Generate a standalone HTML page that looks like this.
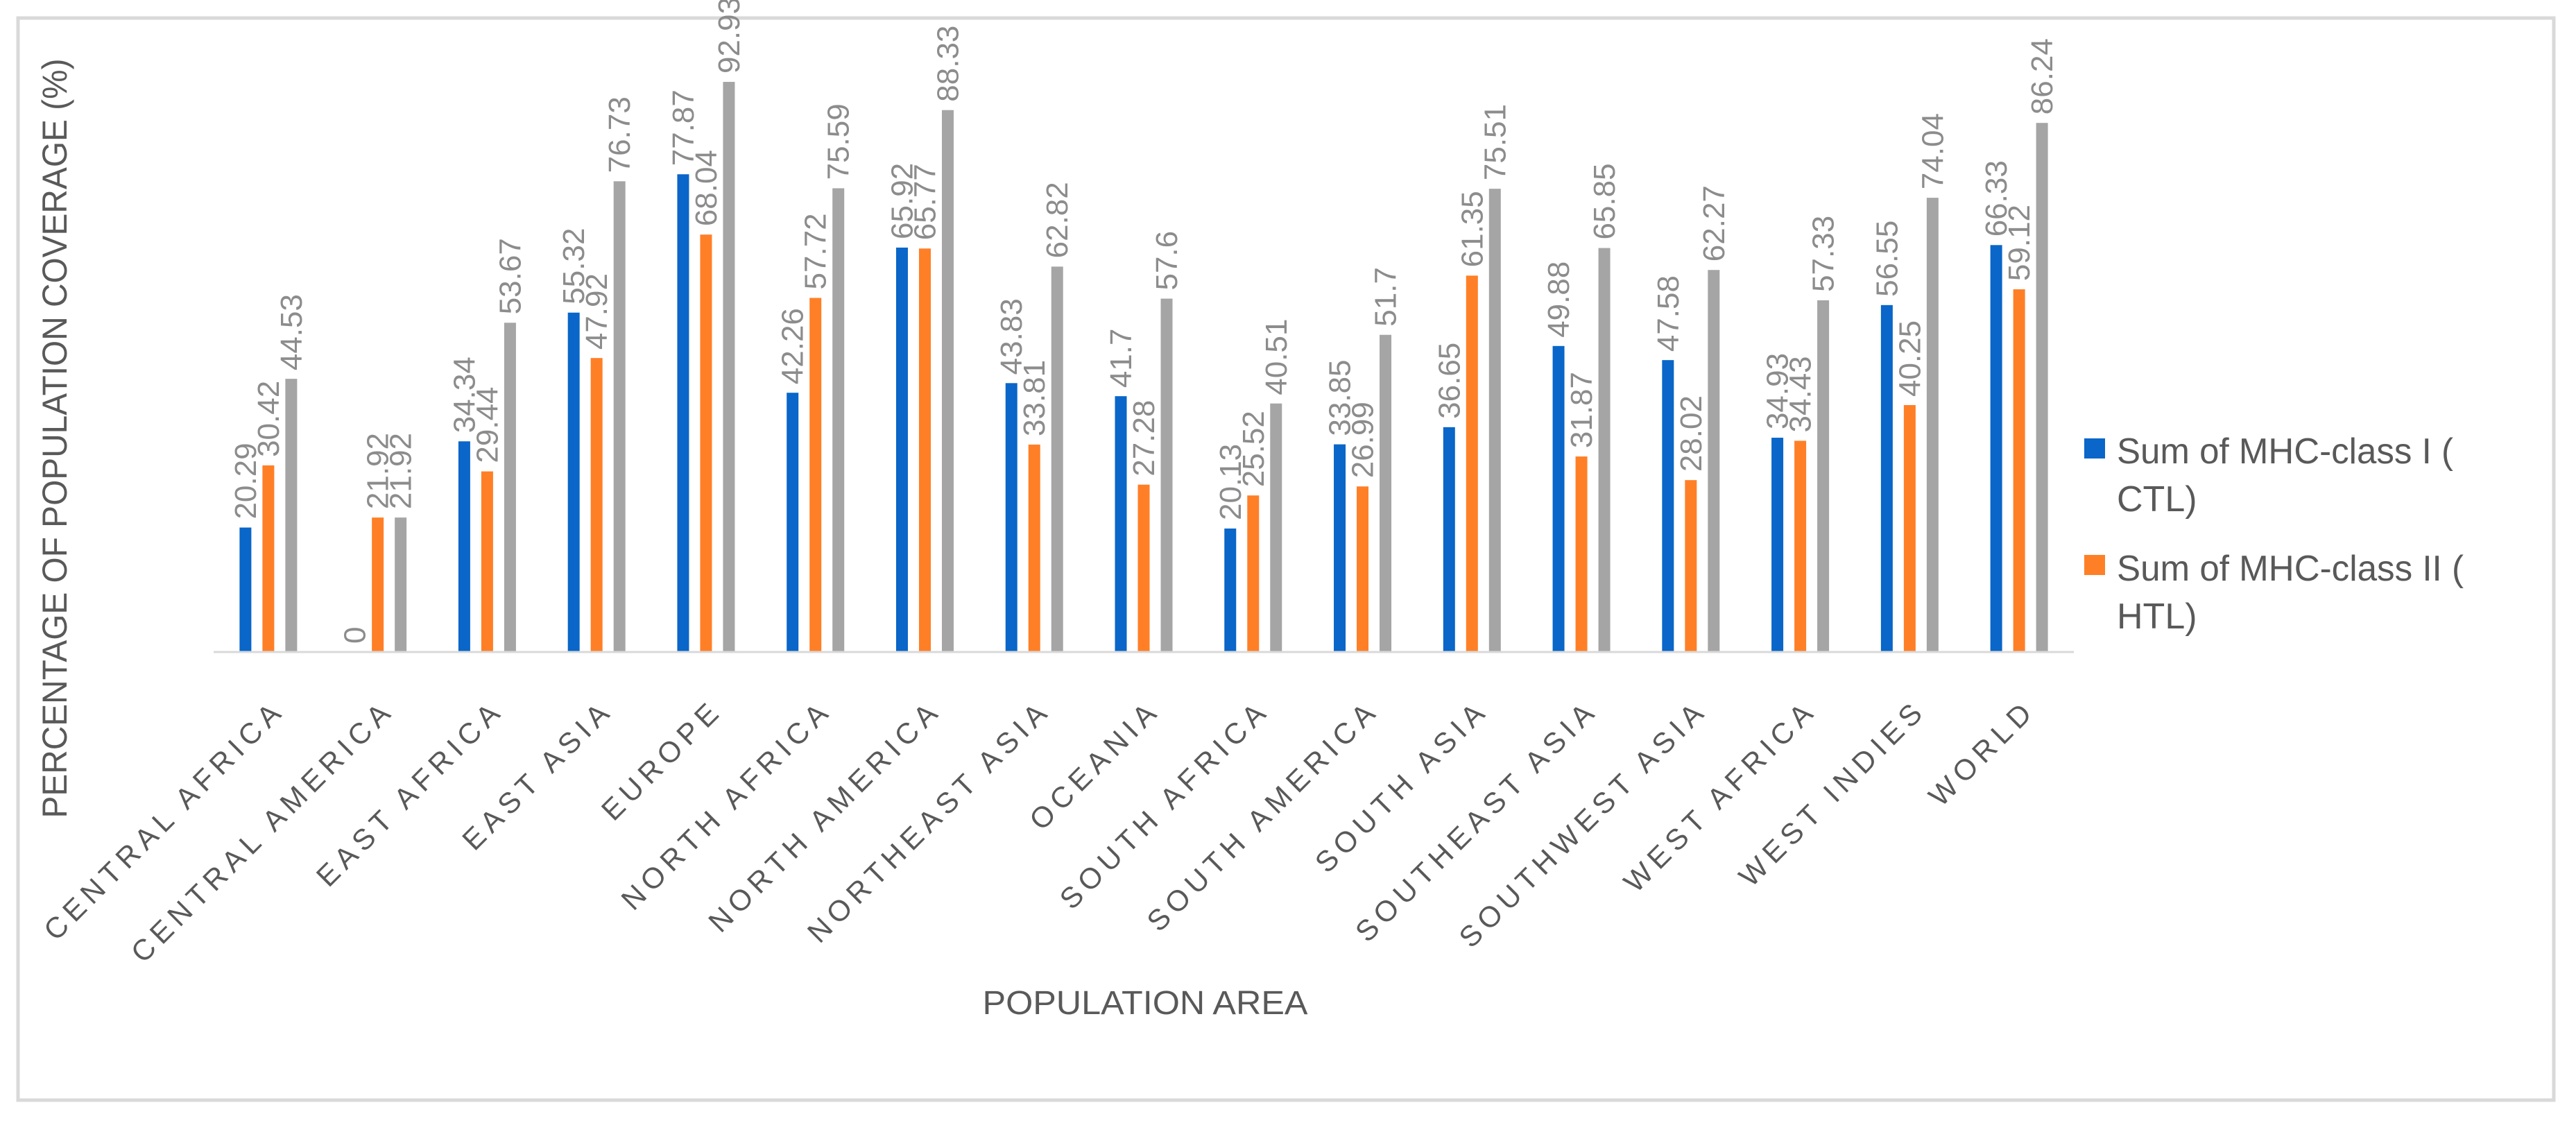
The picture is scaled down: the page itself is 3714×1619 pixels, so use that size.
<!DOCTYPE html>
<html><head><meta charset="utf-8"><style>
html,body{margin:0;padding:0;background:#fff;}
svg{display:block;font-family:"Liberation Sans",sans-serif;}
</style></head><body>
<svg id="chart" width="3714" height="1619" viewBox="0 0 3714 1619" xmlns="http://www.w3.org/2000/svg">
<rect x="26" y="26" width="3656" height="1560" fill="#fff" stroke="#d9d9d9" stroke-width="5"/>
<g id="bars"></g>
<g id="labels"></g>
<g id="cats"></g>
<line x1="308" y1="940" x2="2990" y2="940" stroke="#d9d9d9" stroke-width="3"/>
<text transform="translate(96,632) rotate(-90)" text-anchor="middle" font-size="50" fill="#595959" textLength="1095" lengthAdjust="spacingAndGlyphs">PERCENTAGE OF POPULATION COVERAGE (%)</text>
<text x="1651" y="1462" text-anchor="middle" font-size="48" fill="#595959" textLength="469" lengthAdjust="spacingAndGlyphs">POPULATION AREA</text>
<g>
<rect x="3005" y="632" width="30" height="29" fill="#0a66c8"/>
<text x="3052" y="668" font-size="52" fill="#595959" textLength="485" lengthAdjust="spacingAndGlyphs">Sum of MHC-class I (</text>
<text x="3052" y="737" font-size="52" fill="#595959">CTL)</text>
<rect x="3005" y="800" width="30" height="29" fill="#ff7f27"/>
<text x="3052" y="837" font-size="52" fill="#595959" textLength="500" lengthAdjust="spacingAndGlyphs">Sum of MHC-class II (</text>
<text x="3052" y="906" font-size="52" fill="#595959">HTL)</text>
</g>
</svg>
<script>
const categories=["CENTRAL AFRICA","CENTRAL AMERICA","EAST AFRICA","EAST ASIA","EUROPE","NORTH AFRICA","NORTH AMERICA","NORTHEAST ASIA","OCEANIA","SOUTH AFRICA","SOUTH AMERICA","SOUTH ASIA","SOUTHEAST ASIA","SOUTHWEST ASIA","WEST AFRICA","WEST INDIES","WORLD"];
const classI=[20.29,0,34.34,55.32,77.87,42.26,65.92,43.83,41.7,20.13,33.85,36.65,49.88,47.58,34.93,56.55,66.33];
const classII=[30.42,21.92,29.44,47.92,68.04,57.72,65.77,33.81,27.28,25.52,26.99,61.35,31.87,28.02,34.43,40.25,59.12];
const combined=[44.53,21.92,53.67,76.73,92.93,75.59,88.33,62.82,57.6,40.51,51.7,75.51,65.85,62.27,57.33,74.04,86.24];
const seriesNames=["class-i","class-ii","combined"];
const seriesColors=["#0a66c8","#ff7f27","#a5a5a5"];
const NS="http://www.w3.org/2000/svg";
const x0=308,x1=2990,base=940,pxPerUnit=8.845;
const band=(x1-x0)/categories.length;
const yScale=v=>base-v*pxPerUnit;
const xCenter=i=>x0+band*(i+0.5);
const barW=17,step=33;
const bars=document.getElementById('bars'),labels=document.getElementById('labels'),cats=document.getElementById('cats');
const series=[classI,classII,combined];
series.forEach((arr,s)=>{
 arr.forEach((v,i)=>{
  const cx=xCenter(i)+(s-1)*step;
  const r=document.createElementNS(NS,'rect');
  r.setAttribute('x',cx-barW/2);r.setAttribute('y',yScale(v));
  r.setAttribute('width',barW);r.setAttribute('height',base-yScale(v));
  r.setAttribute('fill',seriesColors[s]);
  
  
  bars.appendChild(r);
  const t=document.createElementNS(NS,'text');
  const ly=yScale(v)-12;
  t.setAttribute('transform','translate('+(cx+15)+','+ly+') rotate(-90)');
  t.setAttribute('font-size','44');t.setAttribute('fill','#8c8c8c');
  t.textContent=String(v);
  
  
  labels.appendChild(t);
 });
});
categories.forEach((c,i)=>{
 const t=document.createElementNS(NS,'text');
 t.setAttribute('transform','translate('+(xCenter(i)+26)+',1026) rotate(-45)');
 t.setAttribute('text-anchor','end');t.setAttribute('font-size','42');
 t.setAttribute('letter-spacing','8');t.setAttribute('fill','#595959');
 t.textContent=c;
 
 
 cats.appendChild(t);
});
</script>
</body></html>
